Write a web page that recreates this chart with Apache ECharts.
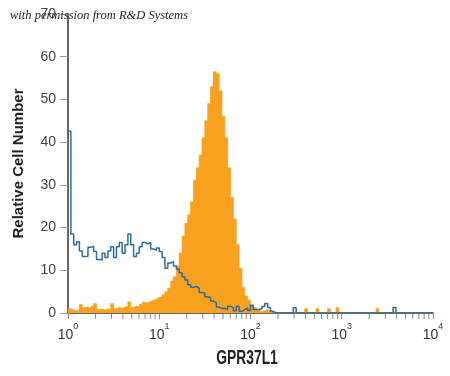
<!DOCTYPE html>
<html>
<head>
<meta charset="utf-8">
<script src="https://cdn.jsdelivr.net/npm/echarts@6/dist/echarts.min.js"></script>
<style>
  html, body { margin: 0; padding: 0; background: #fff; }
  #main { width: 450px; height: 376px; }
</style>
</head>
<body>
<div id="main"></div>
<script>
// histogram channels: 32 bins per decade, from 10^0 to 10^4
var binsPerDecade = 32;
var decades = 4;

// GPR37L1 stained cells (filled orange)
var stained = [
  1.0, 0.7, 0.5, 0.8, 2.0, 1.2, 1.4, 1.0, 1.6, 2.2,
  0.8, 0.9, 0.7, 1.0, 0.8, 2.2, 1.0, 1.3, 1.1, 1.4,
  1.5, 2.6, 1.3, 1.6, 1.5, 2.0, 2.5, 2.3, 2.7, 3.0,
  3.2, 3.6, 3.8, 4.3, 5.0, 5.8, 7.5, 8.5, 11, 14,
  18, 21, 23, 26, 31, 34, 37, 41, 45, 49,
  53, 56.5, 56, 52, 46, 41, 34, 27, 22, 16,
  10.5, 6, 4, 3, 1.8, 1.2, 0.6, 0.3, 0.5, 0.8,
  0.4, 0, 0, 0, 0, 0, 0, 0, 0, 0,
  0, 0, 0, 1.0, 0, 0, 0, 1.0, 0, 0,
  0, 1.0, 0, 0, 1.2, 0, 0, 0, 0, 0,
  0, 0, 0, 0, 0, 0, 0, 0, 1.0, 0,
  0, 0, 0, 0, 0, 0, 0, 0, 0, 0,
  0, 0, 0, 0, 0, 0, 0, 0
];

// isotype control (blue outline)
var isotype = [
  42.6, 18.5, 16, 16.7, 14.5, 13.2, 13.2, 15.4, 15.6, 14.4,
  12.5, 12.4, 14, 13, 14.5, 15.5, 13, 15.5, 16.5, 14,
  16, 18.5, 16, 13.2, 14, 15.5, 16.5, 16.2, 16.5, 15,
  14.7, 15.2, 14.4, 13, 10.5, 11.7, 12, 11, 10.3, 9.4,
  8.4, 7.7, 6.6, 6, 6.2, 5.8, 4.8, 4.7, 3.8, 3.6,
  2.8, 2.4, 1.4, 1.0, 1.1, 0.8, 1.6, 1.2, 0.5, 1.6,
  0.4, 0.8, 1.2, 0.6, 1.8, 0.8, 0.8, 1.0, 1.5, 2.2,
  1.3, 0.4, 0, 0, 0, 0, 0, 0, 0, 1.2,
  0, 0, 0, 0, 0, 0, 0, 0, 0, 0,
  0, 0, 0, 0, 0, 0, 0, 0, 0, 0,
  0, 0, 0, 0, 0, 0, 0, 0, 0, 0,
  0, 0, 0, 0, 1.3, 0, 0, 0, 0, 0,
  0, 0, 0, 0, 0, 0, 0, 0
];

var yTicks = [0, 10, 20, 30, 40, 50, 60, 70];
var xName = 'GPR37L1';
var yName = 'Relative Cell Number';
var credit = 'with permission from R&D Systems';

var orange = '#f8a11e';
var blue = '#2b6d9d';
var labelFont = "'Liberation Sans', Arial, sans-serif";

// step data: point at the left edge of each bin, plus closing edge
function stepData(counts) {
  var out = [];
  for (var i = 0; i < counts.length; i++) {
    out.push([Math.pow(10, i / binsPerDecade), counts[i]]);
  }
  out.push([Math.pow(10, counts.length / binsPerDecade), counts[counts.length - 1]]);
  return out;
}

// log minor ticks 2..9 in every decade
var minorTicks = [];
for (var d = 0; d < decades; d++) {
  for (var k = 2; k <= 9; k++) {
    minorTicks.push([k * Math.pow(10, d), 0]);
  }
}

var myChart = echarts.init(document.getElementById('main'), null, { renderer: 'canvas' });

var option = {
  animation: false,
  backgroundColor: '#fff',
  grid: { left: 68, right: 17, top: 14, bottom: 63 },
  graphic: [
    {
      type: 'text',
      left: 10,
      top: 9,
      z: 100,
      style: {
        text: credit,
        font: "italic 12.5px 'Liberation Serif', 'DejaVu Serif', serif",
        fill: '#222'
      }
    },
    {
      // x axis title, squeezed like a condensed face
      type: 'text',
      x: 247,
      y: 358,
      scaleX: 0.66,
      z: 100,
      style: {
        text: xName,
        font: "bold 21px 'Liberation Sans', Arial, sans-serif",
        fill: '#222',
        align: 'center',
        verticalAlign: 'middle'
      }
    }
  ],
  xAxis: {
    type: 'log',
    logBase: 10,
    min: 1,
    max: Math.pow(10, decades),
    axisLine: { lineStyle: { color: '#333', width: 1.5 } },
    axisTick: { length: 6, lineStyle: { color: '#888' } },
    splitLine: { show: false },
    axisLabel: {
      margin: 9,
      formatter: function (v) {
        var e = Math.round(Math.log(v) / Math.LN10);
        return '{b|10}{s|' + e + '}';
      },
      rich: {
        b: { fontFamily: labelFont, fontSize: 14, color: '#333', lineHeight: 20, verticalAlign: 'bottom' },
        s: { fontFamily: labelFont, fontSize: 9, color: '#333', lineHeight: 14, verticalAlign: 'top' }
      }
    }
  },
  yAxis: {
    type: 'value',
    min: yTicks[0],
    max: yTicks[yTicks.length - 1],
    interval: 10,
    name: yName,
    nameLocation: 'middle',
    nameGap: 42,
    nameTextStyle: {
      fontFamily: labelFont,
      fontWeight: 'bold',
      fontSize: 15,
      color: '#222'
    },
    axisLine: { show: true, lineStyle: { color: '#666', width: 2 } },
    axisTick: { show: true, length: 8, lineStyle: { color: '#999' } },
    splitLine: { show: false },
    axisLabel: {
      margin: 12,
      fontFamily: labelFont,
      fontSize: 14,
      color: '#444'
    }
  },
  series: [
    {
      name: 'GPR37L1',
      type: 'line',
      step: 'end',
      symbol: 'none',
      data: stepData(stained),
      lineStyle: { color: orange, width: 0.8 },
      itemStyle: { color: orange },
      areaStyle: { color: orange, opacity: 1 },
      z: 2
    },
    {
      name: 'isotype',
      type: 'line',
      step: 'end',
      symbol: 'none',
      data: stepData(isotype),
      lineStyle: { color: blue, width: 1.5 },
      itemStyle: { color: blue },
      z: 3
    },
    {
      // minor ticks under the x axis
      type: 'custom',
      silent: true,
      clip: false,
      data: minorTicks,
      renderItem: function (params, api) {
        var p = api.coord([api.value(0), 0]);
        return {
          type: 'line',
          shape: { x1: p[0], y1: p[1] + 1, x2: p[0], y2: p[1] + 6 },
          style: { stroke: '#888', lineWidth: 1 }
        };
      },
      z: 1
    }
  ]
};

myChart.setOption(option);
</script>
</body>
</html>
